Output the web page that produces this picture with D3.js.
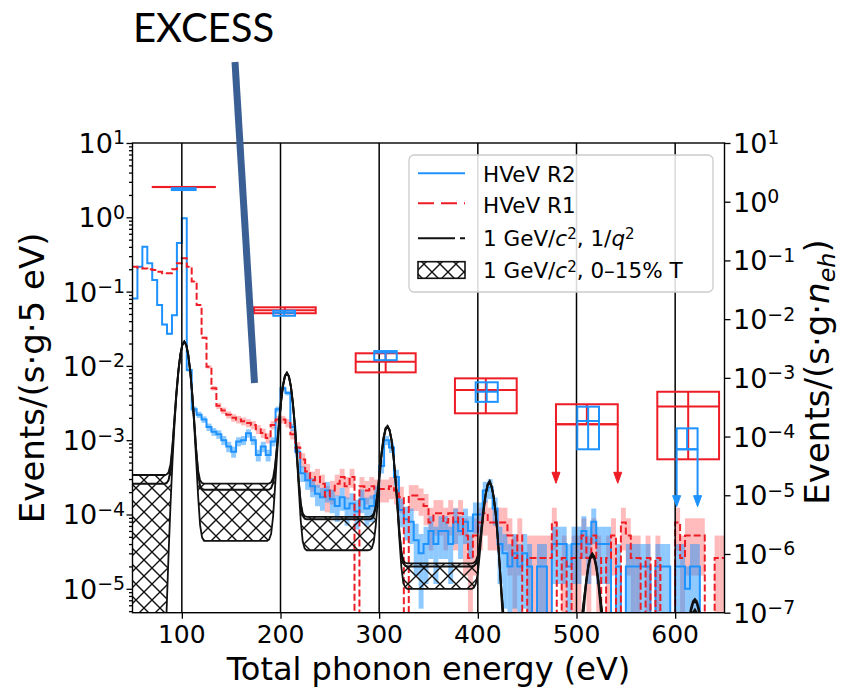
<!DOCTYPE html>
<html><head><meta charset="utf-8">
<script src="https://cdn.jsdelivr.net/npm/d3@7"></script>
<style>body{margin:0;background:#fff}svg{display:block}text{font-family:"DejaVu Sans",sans-serif;fill:#000}</style>
</head><body><svg id="c" width="843" height="688"></svg>
<script>
// ---------- data ----------
const binWidth = 5;
const binLo = [50,55,60,65,70,75,80,85,90,95,100,105,110,115,120,125,130,135,140,145,150,155,160,165,170,175,180,185,190,195,200,205,210,215,220,225,230,235,240,245,250,255,260,265,270,275,280,285,290,295,300,305,310,315,320,325,330,335,340,345,350,355,360,365,370,375,380,385,390,395,400,405,410,415,420,425,430,435,440,445,450,455,460,465,470,475,480,485,490,495,500,505,510,515,520,525,530,535,540,545,550,555,560,565,570,575,580,585,590,595,600,605,610,615,620,625,630,635,640,645];
// HVeV R2 (blue), Events/(s g 5 eV)
const r2Rate = [0.081,0.216,0.40,0.24,0.143,0.066,0.036,0.027,0.048,0.45,
 0.97,0.0088,0.0026,0.0022,0.0019,0.0015,0.0013,0.0012,0.0010,0.00082,
 0.0007,0.00096,0.0010,0.00124,0.0010,0.00063,0.00082,0.00063,0.00096,0.0026,
 0.005,0.0043,0.0015,0.0007,0.00036,0.00029,0.00024,0.00019,0.00017,0.00021,
 0.00016,0.00013,0.00017,0.00012,0.00014,0.00011,0.00016,0.00012,0.00013,0.00018,
 0.00045,0.001,0.0008,0.00032,0.000115,0.000086,0.00008,0.000045,0.00003,0.00004,
 0.00006,0.00004,0.00006,0.00006,0.00004,0.00008,0.00006,0.00008,0.00006,0.0001,
 0.0001,0.00021,0.00023,0.00012,0.00004,0.00003,0.00002,0.00003,0.00002,0.00003,
 0.00002,0,0.00002,0.00002,0,0.00004,0.00004,0.00004,0.00002,0.00004,
 0.00004,0.00006,0.00004,0.00008,0.00004,0.00004,0.00004,0,0.00002,0,
 0.00002,0.00002,0.00002,0.00002,0.00002,0,0.00002,0.00002,0.00002,0,
 0.00002,0.00002,0.00001,0.00002,0.00002,0,null,null,null,null];
const r2RelErr = [0.016,0.01,0.008,0.01,0.012,0.017,0.024,0.027,0.02,0.007,
 0.005,0.048,0.088,0.095,0.1,0.115,0.12,0.13,0.14,0.16,
 0.17,0.14,0.14,0.13,0.14,0.18,0.16,0.18,0.14,0.088,
 0.063,0.068,0.115,0.17,0.24,0.26,0.29,0.32,0.34,0.31,
 0.35,0.39,0.34,0.41,0.38,0.43,0.35,0.41,0.39,0.33,
 0.21,0.14,0.16,0.25,0.42,0.48,0.5,0.67,0.82,0.71,
 0.58,0.71,0.58,0.58,0.71,0.5,0.58,0.5,0.58,0.45,
 0.45,0.31,0.3,0.41,0.71,0.82,1,0.82,1,0.82,
 1,0,1,1,0,0.71,0.71,0.71,1,0.71,
 0.71,0.58,0.71,0.5,0.71,0.71,0.71,0,1,0,
 1,1,1,1,1,0,1,1,1,0,
 1,1,1,1,1,0,0,0,0,0];
// HVeV R1 (red)
const r1Rate = [0.216,0.21,0.205,0.2,0.195,0.185,0.176,0.176,0.2,0.24,
 0.28,0.216,0.137,0.066,0.024,0.0097,0.005,0.0029,0.0025,0.0022,
 0.002,0.0019,0.0018,0.0017,0.0016,0.0014,0.00125,0.00107,0.0016,0.0019,
 0.0019,0.0017,0.0012,0.0008,0.00055,0.00038,0.00029,0.00032,0.00026,0.000175,
 0.00021,0.00026,0.00032,0.00024,0.00032,0,0.00024,0.00021,0.00024,0.00022,
 0.00022,0.00022,0.00024,0.00021,0.00017,0,0.00018,0.00018,0.00016,0.00013,
 0.000078,0.000104,0.000104,0.000078,0.000104,0.000078,0.000104,0.000052,0.000026,0.000052,
 0.000078,0.000104,0.000078,0.000078,0.000078,0.000078,0.000052,0.000026,0.000052,0,
 0.000026,0.000026,0.000026,0.000026,0.000026,0.000078,0,0.000026,0,0.000026,
 0.000026,0.000052,0.000026,0.000052,0.000026,0,0.000026,0.000052,0,0.000078,
 0.000052,0.000026,0.000026,0,0.000026,0,0.000026,0,0,0,
 0.000078,0.000026,0.000052,0.000052,0.000052,0.000052,0,0,0.000026,0.000026];
const r1RelErr = [0.011,0.011,0.011,0.011,0.011,0.012,0.012,0.012,0.011,0.01,
 0.01,0.011,0.014,0.02,0.033,0.052,0.072,0.095,0.1,0.11,
 0.114,0.117,0.12,0.124,0.127,0.136,0.144,0.156,0.127,0.117,
 0.117,0.124,0.147,0.18,0.217,0.26,0.3,0.285,0.32,0.39,
 0.35,0.32,0.285,0.33,0.285,0,0.33,0.35,0.33,0.34,
 0.34,0.34,0.33,0.35,0.39,0,0.38,0.38,0.4,0.45,
 0.58,0.5,0.5,0.58,0.5,0.58,0.5,0.71,1,0.71,
 0.58,0.5,0.58,0.58,0.58,0.58,0.71,1,0.71,0,
 1,1,1,1,1,0.58,0,1,0,1,
 1,0.71,1,0.71,1,0,1,0.71,0,0.58,
 0.71,1,1,0,1,0,1,0,0,0,
 0.58,1,0.71,0.71,0.71,0.71,0,0,1,1];
// model 1 GeV/c^2 : 1/q^2 line and 0-15% T band (read points)
const modelE = [50,82.5,84.5,86.5,88.5,90.5,92.5,94.5,96.5,98.5,100.5,102.5,104.5,106.5,108.5,110.5,112.5,114.5,116.5,118.5,120.5,122.5,
 186.5,188.5,190.5,192.5,194.5,196.5,198.5,200.5,202.5,204.5,206.5,208.5,210.5,212.5,214.5,216.5,218.5,220.5,222.5,224.5,226.5,
 288.5,290.5,292.5,294.5,296.5,298.5,300.5,302.5,304.5,306.5,308.5,310.5,312.5,314.5,316.5,318.5,320.5,322.5,324.5,326.5,328.5,
 392,394,396,398,400,402,404,406,408,410,412,414,416,418,420,422,424,426,428,432,
 502,504,506,508,510,512,514,516,518,520,522,524,526,528,530,
 612,614,616,618,620,622,624,626,628,650];
const modelLine = [2.6e-4,2.6e-4,2.65e-4,2.88e-4,3.9e-4,7.7e-4,1.85e-3,4.29e-3,8.56e-3,0.01416,0.0192,0.0213,0.01916,0.01412,8.52e-3,4.25e-3,1.81e-3,7.25e-4,3.48e-4,2.43e-4,2.2e-4,2.15e-4,
 2.15e-4,2.17e-4,2.26e-4,2.65e-4,4.07e-4,8.13e-4,1.74e-3,3.34e-3,5.45e-3,7.35e-3,8.1e-3,7.22e-3,5.32e-3,3.21e-3,1.61e-3,6.84e-4,2.78e-4,1.36e-4,9.66e-5,8.78e-5,8.6e-5,
 8.6e-5,8.6e-5,8.8e-5,9.55e-5,1.23e-4,2.0e-4,3.74e-4,6.79e-4,1.079e-3,1.44e-3,1.55e-3,1.373e-3,1.013e-3,6.13e-4,3.08e-4,1.34e-4,5.65e-5,2.95e-5,2.2e-5,2.04e-5,2.0e-5,
 2.0e-5,2.0e-5,2.04e-5,2.17e-5,2.63e-5,3.97e-5,7.0e-5,1.23e-4,1.92e-4,2.55e-4,2.8e-4,2.38e-4,1.75e-4,1.06e-4,5.25e-5,2.22e-5,8.8e-6,4.15e-6,2.85e-6,2.5e-6,
 2.5e-6,3.2e-6,4.5e-6,7.7e-6,1.32e-5,2.04e-5,2.69e-5,2.95e-5,2.69e-5,2.04e-5,1.32e-5,7.7e-6,4.5e-6,3.2e-6,2.5e-6,
 2.5e-6,3.5e-6,5e-6,6.3e-6,6.8e-6,6.3e-6,5e-6,3.5e-6,2.5e-6,2.5e-6];
const modelHi = [3.4e-4,3.4e-4,3.45e-4,3.68e-4,4.7e-4,8.5e-4,1.93e-3,4.37e-3,8.64e-3,0.01424,0.0193,0.0213,0.0192,0.01416,8.56e-3,4.29e-3,1.85e-3,7.7e-4,3.93e-4,2.88e-4,2.65e-4,2.6e-4,
 2.6e-4,2.62e-4,2.71e-4,3.1e-4,4.52e-4,8.58e-4,1.78e-3,3.38e-3,5.49e-3,7.39e-3,8.1e-3,7.22e-3,5.32e-3,3.21e-3,1.61e-3,6.91e-4,2.85e-4,1.43e-4,1.04e-4,9.48e-5,9.3e-5,
 9.3e-5,9.3e-5,9.5e-5,1.03e-4,1.3e-4,2.07e-4,3.81e-4,6.86e-4,1.086e-3,1.446e-3,1.55e-3,1.375e-3,1.015e-3,6.15e-4,3.1e-4,1.36e-4,5.85e-5,3.15e-5,2.4e-5,2.24e-5,2.2e-5,
 2.2e-5,2.2e-5,2.24e-5,2.37e-5,2.83e-5,4.17e-5,7.2e-5,1.25e-4,1.94e-4,2.57e-4,2.82e-4,2.38e-4,1.75e-4,1.06e-4,5.3e-5,2.27e-5,9.3e-6,4.65e-6,3.35e-6,3e-6,
 3e-6,3.7e-6,5e-6,8.2e-6,1.37e-5,2.09e-5,2.74e-5,3.0e-5,2.74e-5,2.09e-5,1.37e-5,8.2e-6,5e-6,3.7e-6,3e-6,
 3e-6,4e-6,5.5e-6,6.8e-6,7.3e-6,6.8e-6,5.5e-6,4e-6,3e-6,3e-6];
const modelLo = [1e-7,7e-7,4.8e-6,2.8e-5,1.33e-4,5.1e-4,1.59e-3,4.03e-3,8.3e-3,0.0139,0.0189,0.021,0.01898,0.01394,8.34e-3,4.07e-3,1.63e-3,5.5e-4,1.77e-4,7.2e-5,4.9e-5,4.4e-5,
 4.4e-5,4.6e-5,5.5e-5,9.4e-5,2.36e-4,6.42e-4,1.56e-3,3.16e-3,5.27e-3,7.17e-3,7.95e-3,7.16e-3,5.26e-3,3.15e-3,1.55e-3,6.31e-4,2.25e-4,8.3e-5,4.36e-5,3.48e-5,3.3e-5,
 3.3e-5,3.34e-5,3.5e-5,4.25e-5,6.95e-5,1.47e-4,3.21e-4,6.26e-4,1.026e-3,1.386e-3,1.51e-3,1.363e-3,1.003e-3,6.03e-4,2.98e-4,1.24e-4,4.65e-5,1.95e-5,1.2e-5,1.04e-5,1.0e-5,
 1.0e-5,1.0e-5,1.04e-5,1.17e-5,1.63e-5,2.97e-5,6.0e-5,1.13e-4,1.82e-4,2.45e-4,2.7e-4,2.36e-4,1.73e-4,1.04e-4,5.1e-5,2.07e-5,7.3e-6,2.65e-6,1.35e-6,1e-6,
 1e-6,1.7e-6,3e-6,6.2e-6,1.17e-5,1.89e-5,2.54e-5,2.8e-5,2.54e-5,1.89e-5,1.17e-5,6.2e-6,3e-6,1.7e-6,1e-6,
 1e-6,2e-6,3.5e-6,4.8e-6,5.3e-6,4.8e-6,3.5e-6,2e-6,1e-6,1e-6];
// per-peak fitted rates (right axis, Events/(s g n_eh))
const r1BoxE = [102, 204.4, 306.6, 408.1, 510.5, 613.2];
const r1BoxHalf = [31.5, 31.3, 30.4, 31.3, 31.3, 31.3];
const r1BoxVal = [1.78, 0.0142, 1.88e-3, 6.2e-4, 1.62e-4, 3.24e-4];
const r1BoxLo = [1.775, 0.0126, 1.24e-3, 2.49e-4, 1.62e-4, 4.1e-5];
const r1BoxHi = [1.785, 0.0159, 2.62e-3, 9.8e-4, 3.55e-4, 5.8e-4];
const r1BoxArrow = [null, null, null, null, 1.6e-5, null];
const r2BoxE = [101.9, 203.7, 306.4, 409, 511.8, 612.1];
const r2BoxHalf = [12.1, 11, 11.4, 11.2, 11, 10.6];
const r2BoxVal = [1.64, 0.0128, 2.7e-3, 5.8e-4, 1.84e-4, 6.07e-5];
const r2BoxLo = [1.58, 0.0114, 2.0e-3, 3.9e-4, 6.07e-5, 6.07e-5];
const r2BoxHi = [1.70, 0.0139, 2.86e-3, 8.4e-4, 3.23e-4, 1.38e-4];
const r2BoxArrow = [null, null, null, null, null, 6.4e-6];
const peakLines = [100, 200, 300, 400, 500, 600];
const xTicks = [100, 200, 300, 400, 500, 600];
const yLeftExp = [1, 0, -1, -2, -3, -4, -5];
const yRightExp = [1, 0, -1, -2, -3, -4, -5, -6, -7];

// ---------- layout ----------
const L = 132.5, R = 724.5, T = 143, B = 612.7;
const BLUE = "#1e93ff", RED = "#ee1c25";
const svg = d3.select("#c");
const x = d3.scaleLinear().domain([50, 650]).range([L, R]);
const yL = d3.scaleLog().domain([Math.pow(10, -5.322), 10]).range([B, T]);
const yR = d3.scaleLog().domain([1e-7, 10]).range([B, T]);
const yv = v => (v > 0 ? yL(v) : B + 20);

const defs = svg.append("defs");
defs.append("clipPath").attr("id", "clip").append("rect")
  .attr("x", L).attr("y", T).attr("width", R - L).attr("height", B - T);
const HP = 16;
const pat = defs.append("pattern").attr("id", "hatch").attr("patternUnits", "userSpaceOnUse")
  .attr("width", HP).attr("height", HP);
pat.append("path").attr("d", `M0,0L${HP},${HP}M${HP},0L0,${HP}M-3,${HP-3}L3,${HP+3}M${HP-3},-3L${HP+3},3M${HP-3},${HP+3}L${HP+3},${HP-3}M-3,3L3,-3`)
  .attr("stroke", "#111").attr("stroke-width", 1.4).attr("fill", "none");

const plot = svg.append("g").attr("clip-path", "url(#clip)");

function bands(rate, err, color, op) {
  const g = plot.append("g");
  rate.forEach((v, i) => {
    if (v == null || !(v > 0) || !(err[i] > 0)) return;
    const lo = v * (1 - err[i]), hi = v * (1 + err[i]);
    g.append("rect").attr("x", x(binLo[i])).attr("width", x(binLo[i] + binWidth) - x(binLo[i]))
      .attr("y", yL(hi)).attr("height", (lo > 0 ? yL(lo) : B + 10) - yL(hi))
      .attr("fill", color).attr("fill-opacity", op);
  });
}
function stepPts(rate) {
  const pts = [];
  rate.forEach((v, i) => {
    if (v == null) return;
    pts.push([binLo[i], v]);
    if (i === rate.length - 1 || rate[i + 1] == null) pts.push([binLo[i] + binWidth, v]);
  });
  return pts;
}
const stepLine = d3.line().x(d => x(d[0])).y(d => yv(d[1])).curve(d3.curveStepAfter);

bands(r1Rate, r1RelErr, "#ff3030", 0.33);
bands(r2Rate, r2RelErr, BLUE, 0.5);
plot.append("path").attr("d", stepLine(stepPts(r2Rate))).attr("fill", "none")
  .attr("stroke", BLUE).attr("stroke-width", 2);
plot.append("path").attr("d", stepLine(stepPts(r1Rate))).attr("fill", "none")
  .attr("stroke", RED).attr("stroke-width", 2).attr("stroke-dasharray", "7,3");

// vertical reference lines
plot.selectAll(".vl").data(peakLines).enter().append("line")
  .attr("x1", d => x(d)).attr("x2", d => x(d)).attr("y1", T).attr("y2", B)
  .attr("stroke", "#000").attr("stroke-width", 1.5);

// model band + line
const idx = modelE.map((e, i) => i);
const area = d3.area().x(i => x(modelE[i])).y0(i => yL(modelLo[i])).y1(i => yL(modelHi[i]));
plot.append("path").attr("d", area(idx)).attr("fill", "url(#hatch)").attr("stroke", "none");
const mk = arr => d3.line().x(i => x(modelE[i])).y(i => yL(arr[i]))(idx);
plot.append("path").attr("d", mk(modelLo)).attr("fill", "none").attr("stroke", "#111").attr("stroke-width", 1.8);
plot.append("path").attr("d", mk(modelHi)).attr("fill", "none").attr("stroke", "#111").attr("stroke-width", 1.8);
plot.append("path").attr("d", mk(modelLine)).attr("fill", "none").attr("stroke", "#111").attr("stroke-width", 2);

// per-peak boxes
function boxes(E, H, V, Lo, Hi, Ar, color) {
  const g = svg.append("g").attr("stroke", color).attr("stroke-width", 2).attr("fill", "none");
  E.forEach((e, i) => {
    const x0 = x(e - H[i]), x1 = x(e + H[i]);
    g.append("rect").attr("x", x0).attr("y", yR(Hi[i])).attr("width", x1 - x0)
      .attr("height", Math.max(0, yR(Lo[i]) - yR(Hi[i])));
    g.append("line").attr("x1", x0).attr("x2", x1).attr("y1", yR(V[i])).attr("y2", yR(V[i]));
    g.append("line").attr("x1", x(e)).attr("x2", x(e)).attr("y1", yR(Hi[i])).attr("y2", yR(Lo[i]));
    if (Ar[i] != null) {
      [x0, x1].forEach(xx => {
        const yt = yR(Ar[i]);
        g.append("line").attr("x1", xx).attr("x2", xx).attr("y1", yR(Lo[i])).attr("y2", yt - 6);
        g.append("path").attr("d", `M${xx - 4},${yt - 11}L${xx + 4},${yt - 11}L${xx},${yt}Z`)
          .attr("fill", color).attr("stroke", color).attr("stroke-width", 1);
      });
    }
  });
}
boxes(r1BoxE, r1BoxHalf, r1BoxVal, r1BoxLo, r1BoxHi, r1BoxArrow, RED);
boxes(r2BoxE, r2BoxHalf, r2BoxVal, r2BoxLo, r2BoxHi, r2BoxArrow, BLUE);

// ---------- axes ----------
const FS = 27;
const minorL = [];
for (let e = -6; e <= 0; e++) for (let m = 2; m <= 9; m++) {
  const v = m * Math.pow(10, e);
  if (v > yL.domain()[0] && v < 10) minorL.push(v);
}
const axL = svg.append("g").attr("transform", `translate(${L},0)`)
  .call(d3.axisLeft(yL).tickValues(yLeftExp.map(e => Math.pow(10, e))).tickSize(6).tickFormat(""));
const axLm = svg.append("g").attr("transform", `translate(${L},0)`)
  .call(d3.axisLeft(yL).tickValues(minorL).tickSize(3.5).tickFormat(""));
const axR = svg.append("g").attr("transform", `translate(${R},0)`)
  .call(d3.axisRight(yR).tickValues(yRightExp.map(e => Math.pow(10, e))).tickSize(6).tickFormat(""));
const axB = svg.append("g").attr("transform", `translate(0,${B})`)
  .call(d3.axisBottom(x).tickValues(xTicks).tickSize(6).tickFormat(""));
[axL, axLm, axR, axB].forEach(a => {
  a.select(".domain").remove();
  a.selectAll("line").attr("stroke", "#000").attr("stroke-width", 1.3);
});
svg.append("rect").attr("x", L).attr("y", T).attr("width", R - L).attr("height", B - T)
  .attr("fill", "none").attr("stroke", "#000").attr("stroke-width", 1.4);

function powLabel(sel, e) {
  sel.append("tspan").text("10");
  sel.append("tspan").attr("dy", "-0.45em").attr("font-size", "0.7em")
    .text(e < 0 ? "\u2212" + (-e) : String(e));
}
yLeftExp.forEach(e => {
  const t = svg.append("text").attr("x", 125).attr("y", yL(Math.pow(10, e)) + 10)
    .attr("text-anchor", "end").attr("font-size", FS);
  powLabel(t, e);
});
yRightExp.forEach(e => {
  const t = svg.append("text").attr("x", 733).attr("y", yR(Math.pow(10, e)) + 10)
    .attr("text-anchor", "start").attr("font-size", FS);
  powLabel(t, e);
});
xTicks.forEach(v => {
  svg.append("text").attr("x", x(v)).attr("y", 643).attr("text-anchor", "middle")
    .attr("font-size", 25).text(v);
});
svg.append("text").attr("x", (L + R) / 2).attr("y", 680).attr("text-anchor", "middle")
  .attr("font-size", 32).text("Total phonon energy (eV)");
svg.append("text").attr("transform", `translate(44,${(T + B) / 2}) rotate(-90)`)
  .attr("text-anchor", "middle").attr("font-size", 34).text("Events/(s\u00b7g\u00b75 eV)");
const rl = svg.append("text").attr("transform", `translate(829,372) rotate(-90)`)
  .attr("text-anchor", "middle").attr("font-size", 34);
rl.append("tspan").text("Events/(s\u00b7g\u00b7");
rl.append("tspan").attr("font-style", "italic").text("n");
rl.append("tspan").attr("font-style", "italic").attr("font-size", "0.7em").attr("dy", "0.25em").text("eh");
rl.append("tspan").attr("dy", "-0.18em").text(")");

// ---------- legend ----------
const lg = svg.append("g");
lg.append("rect").attr("x", 409).attr("y", 155).attr("width", 304).attr("height", 137).attr("rx", 5)
  .attr("fill", "#fff").attr("fill-opacity", 0.85).attr("stroke", "#cccccc").attr("stroke-width", 1.3);
lg.append("line").attr("x1", 418).attr("x2", 465).attr("y1", 173.3).attr("y2", 173.3)
  .attr("stroke", BLUE).attr("stroke-width", 2);
lg.append("line").attr("x1", 418).attr("x2", 465).attr("y1", 203.3).attr("y2", 203.3)
  .attr("stroke", RED).attr("stroke-width", 2).attr("stroke-dasharray", "16,7");
lg.append("line").attr("x1", 418).attr("x2", 465).attr("y1", 238.3).attr("y2", 238.3)
  .attr("stroke", "#111").attr("stroke-width", 2).attr("stroke-dasharray", "37,5,5,100");
lg.append("rect").attr("x", 418).attr("y", 261.7).attr("width", 47).attr("height", 16.6)
  .attr("fill", "url(#hatch)").attr("stroke", "#111").attr("stroke-width", 1.6);
const LFS = 21.5;
lg.append("text").attr("x", 483).attr("y", 181.7).attr("font-size", LFS).text("HVeV R2");
lg.append("text").attr("x", 483).attr("y", 212.7).attr("font-size", LFS).text("HVeV R1");
function gevLabel(y) {
  const t = lg.append("text").attr("x", 483).attr("y", y).attr("font-size", LFS);
  t.append("tspan").text("1 GeV/");
  t.append("tspan").attr("font-style", "italic").text("c");
  t.append("tspan").attr("font-size", "0.7em").attr("dy", "-0.45em").text("2");
  t.append("tspan").attr("dy", "0.315em").text(", ");
  return t;
}
const t3 = gevLabel(245.5);
t3.append("tspan").text("1/");
t3.append("tspan").attr("font-style", "italic").text("q");
t3.append("tspan").attr("font-size", "0.7em").attr("dy", "-0.45em").text("2");
const t4 = gevLabel(278.3);
t4.append("tspan").text("0\u201315% T");

// ---------- annotation ----------
svg.append("line").attr("x1", 235).attr("y1", 62).attr("x2", 254.5).attr("y2", 383)
  .attr("stroke", "#3a5f94").attr("stroke-width", 7);
svg.append("text").attr("x", 133).attr("y", 42).attr("font-size", 40)
  .style("font-family", "Lato, 'Open Sans', sans-serif").text("EXCESS");
</script></body></html>
